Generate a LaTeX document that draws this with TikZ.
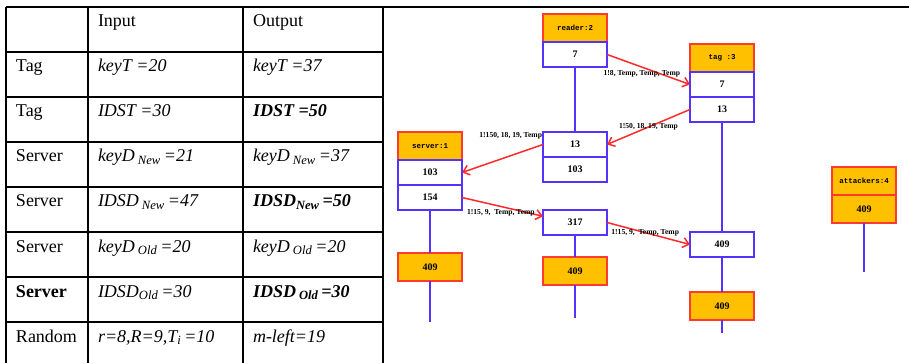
\documentclass[tikz,border=0pt]{standalone}
\usepackage{fontspec}
\setmainfont{Liberation Serif}
\setmonofont{Liberation Mono}
\usetikzlibrary{positioning,arrows.meta,calc}
\definecolor{hdrorange}{HTML}{FFC000}
\definecolor{edgered}{HTML}{FF3B30}
\definecolor{lifeblue}{HTML}{5533FF}
\definecolor{msgred}{HTML}{FF2A2A}

\begin{document}
\begin{tikzpicture}[x=1pt, y=-1pt,
    every node/.style={inner sep=0pt, outer sep=0pt},
    cell/.style={anchor=base west, font=\fontsize{18}{21}\selectfont},
    grid/.style={line width=1.2pt, black},
    hdr/.style={
      draw=edgered, fill=hdrorange, line width=1.3pt,
      minimum width=64pt, minimum height=28pt,
      font=\ttfamily\bfseries\fontsize{7.5}{8}\selectfont
    },
    val/.style={
      draw=lifeblue, fill=white, line width=1.8pt,
      minimum width=64pt, minimum height=25pt,
      font=\bfseries\fontsize{10}{11}\selectfont
    },
    hot/.style={hdr, font=\bfseries\fontsize{10}{11}\selectfont},
    life/.style={lifeblue, line width=1.5pt},
    msg/.style={-{Straight Barb[length=6pt, width=10pt]}, msgred, line width=1.5pt},
    mlabel/.style={text=black, font=\bfseries\fontsize{7.6}{8}\selectfont, inner sep=1pt}
  ]
  \useasboundingbox (0,0) rectangle (909,363);

  % table on the left
  \draw[grid] (6,7) -- (909,7);
  \foreach \x in {6,88,243,383} {\draw[grid] (\x,7) -- (\x,363);}
  \foreach \y in {52,97,142,187,232,277,322} {\draw[grid] (6,\y) -- (383,\y);}

  \node[cell] (hin)  at (98,27)  {Input};
  \node[cell] (hout) at (253,27) {Output};
  \foreach \y/\who/\inp/\outp in {
      72/{Tag}/{\textit{keyT =20}}/{\textit{keyT =37}},
      117/{Tag}/{\textit{IDST =30}}/{\textbf{\textit{IDST =50}}},
      162/{Server}/{\textit{keyD\,\textsubscript{New}\,=21}}/{\textit{keyD\,\textsubscript{New}\,=37}},
      207/{Server}/{\textit{IDSD\,\textsubscript{New}\,=47}}/{\textbf{\textit{IDSD\textsubscript{New}\,=50}}},
      252/{Server}/{\textit{keyD\,\textsubscript{Old}\,=20}}/{\textit{keyD\,\textsubscript{Old}\,=20}},
      297/{\textbf{Server}}/{\textit{IDSD\textsubscript{Old}\,=30}}/{\textbf{\textit{IDSD\,\textsubscript{Old}\,=30}}},
      342/{Random}/{\textit{r=8,R=9,T\textsubscript{i}\,=10}}/{\textit{m-left=19}}} {
    \node[cell] (who\y) at (16,\y)  {\who};
    \node[cell] (inp\y) at (98,\y)  {\inp};
    \node[cell] (out\y) at (253,\y) {\outp};
  }

  % server:1
  \node[hdr, anchor=north] (srvhdr) at (430,132) {server:1};
  \node[val, below=0pt of srvhdr] (srv103) {103};
  \node[val, below=0pt of srv103] (srv154) {154};
  \node[hot, anchor=north] (srv409) at (430,253) {409};
  \coordinate (srvend) at (430,322);

  % reader:2
  \node[hdr, anchor=north] (rdhdr) at (575,14) {reader:2};
  \node[val, below=0pt of rdhdr] (rd7) {7};
  \node[val, anchor=north] (mid13) at (575,132) {13};
  \node[val, below=0pt of mid13] (mid103) {103};
  \node[val, anchor=north] (mid317) at (575,210) {317};
  \node[hot, anchor=north] (mid409) at (575,257) {409};
  \coordinate (midend) at (575,318);

  % tag:3
  \node[hdr, anchor=north] (taghdr) at (722,44) {tag :3};
  \node[val, below=0pt of taghdr] (tag7) {7};
  \node[val, below=0pt of tag7] (tag13) {13};
  \node[val, anchor=north] (tag409) at (722,232) {409};
  \node[hot, anchor=north] (tagalt) at (722,292) {409};
  \coordinate (tagend) at (722,333);

  % attackers:4
  \node[hdr, anchor=north] (atthdr) at (864,167) {attackers:4};
  \node[hot, below=0pt of atthdr] (att409) {409};
  \coordinate (attend) at (864,272);

  % lifelines
  \foreach \a/\b in {srv154/srv409, rd7/mid13, mid317/mid409, tag13/tag409, tag409/tagalt}
    {\draw[life] (\a.south) -- (\b.north);}
  \foreach \a/\b in {srv409/srvend, mid409/midend, tagalt/tagend, att409/attend}
    {\draw[life] (\a.south) -- (\b);}

  % messages
  \draw[msg] (rd7.east) -- node[mlabel, pos=0.42, below=2pt] {1!8, Temp, Temp, Temp} (tag7.west);
  \draw[msg] (tag13.west) -- node[mlabel, pos=0.5] {1!50, 18, 19, Temp} (mid13.east);
  \draw[msg] (mid13.west) -- node[mlabel, pos=0, anchor=south east, yshift=4pt] {1!150, 18, 19, Temp} (srv103.east);
  \draw[msg] (srv154.east) -- node[mlabel, pos=0.48, below=2pt] {1!15, 9,\ \ Temp, Temp}
    ($(mid317.north west)!0.25!(mid317.south west)$);
  \draw[msg] (mid317.east) -- node[mlabel, pos=0.46] {1!15, 9,\ \ Temp, Temp} (tag409.west);

\end{tikzpicture}
\end{document}
